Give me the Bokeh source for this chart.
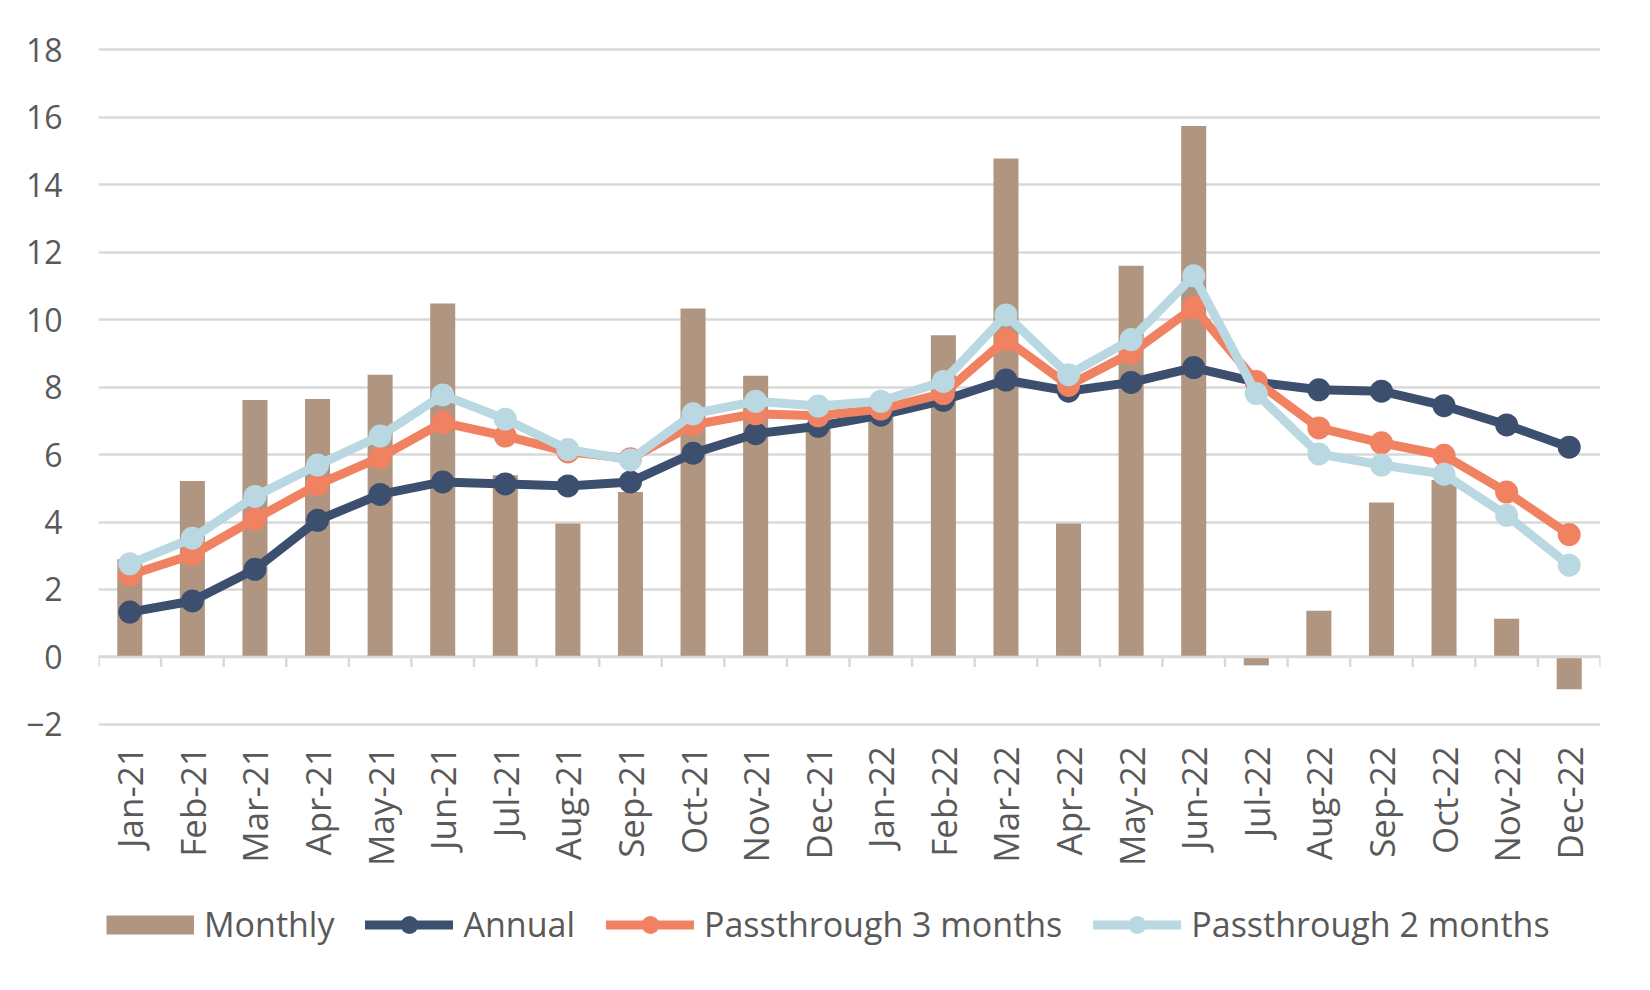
import math
from bokeh.plotting import figure
from bokeh.models import Range1d, FixedTicker, Legend, LegendItem, ColumnDataSource, Span
from bokeh.core.properties import value
from bokeh.embed import file_html
from bokeh.resources import INLINE

months = ["Jan-21", "Feb-21", "Mar-21", "Apr-21", "May-21", "Jun-21",
          "Jul-21", "Aug-21", "Sep-21", "Oct-21", "Nov-21", "Dec-21",
          "Jan-22", "Feb-22", "Mar-22", "Apr-22", "May-22", "Jun-22",
          "Jul-22", "Aug-22", "Sep-22", "Oct-22", "Nov-22", "Dec-22"]

monthly = [2.9, 5.22, 7.62, 7.65, 8.37, 10.48, 5.39, 3.96, 4.89, 10.33, 8.34, 6.9,
           7.2, 9.54, 14.78, 3.96, 11.6, 15.74, -0.25, 1.37, 4.58, 5.25, 1.13, -0.96]

annual = [1.33, 1.66, 2.6, 4.05, 4.82, 5.19, 5.13, 5.07, 5.19, 6.04, 6.62, 6.84,
          7.17, 7.61, 8.21, 7.88, 8.14, 8.58, 8.15, 7.92, 7.88, 7.45, 6.88, 6.22]

pass3 = [2.43, 3.03, 4.09, 5.11, 5.92, 6.95, 6.55, 6.08, 5.88, 6.88, 7.21, 7.15,
         7.35, 7.81, 9.41, 8.05, 9.01, 10.36, 8.17, 6.79, 6.35, 5.98, 4.89, 3.63]

pass2 = [2.76, 3.52, 4.76, 5.69, 6.55, 7.77, 7.05, 6.15, 5.84, 7.21, 7.58, 7.44,
         7.58, 8.17, 10.14, 8.37, 9.41, 11.3, 7.81, 6.02, 5.69, 5.42, 4.2, 2.72]

y_ticks = list(range(-2, 19, 2))

BAR = "#B09580"
NAVY = "#3C4F6E"
ORANGE = "#F08262"
LIGHT = "#BAD8E1"
GRID = "#D9D9D9"
TEXT = "#595959"
FONT = "Open Sans"

# the plot area runs to the bottom of the page; month labels and legend
# live in the strip below the -2 gridline
LABEL_Y = -2.65
TICK_LEN = 0.3

n = len(months)
idx = list(range(n))
src = ColumnDataSource(dict(x=idx, monthly=monthly, annual=annual, pass3=pass3, pass2=pass2))

p = figure(frame_width=1502, frame_height=944, output_backend="svg", toolbar_location=None,
           x_range=Range1d(-0.5, n - 0.5), y_range=Range1d(-9.89, 18.1),
           min_border_left=98, min_border_right=50, min_border_top=46, min_border_bottom=0)
p.outline_line_color = None
p.background_fill_color = "white"
p.xaxis.visible = False

# horizontal grid
p.xgrid.visible = False
p.ygrid.ticker = FixedTicker(ticks=y_ticks)
p.ygrid.grid_line_color = GRID
p.ygrid.grid_line_width = 2.5

# y axis: labels only
p.yaxis.ticker = FixedTicker(ticks=y_ticks)
p.yaxis.axis_line_color = None
p.yaxis.major_tick_line_color = None
p.yaxis.minor_tick_line_color = None
p.yaxis.major_label_text_font = FONT
p.yaxis.major_label_text_font_size = "32px"
p.yaxis.major_label_text_color = TEXT
p.yaxis.major_label_standoff = 30

# zero line with tick marks between categories
p.add_layout(Span(location=0, dimension="width", line_color=GRID, line_width=2.5))
bounds = [i - 0.5 for i in range(n + 1)]
p.segment(x0=bounds, x1=bounds, y0=[0] * len(bounds), y1=[-TICK_LEN] * len(bounds),
          line_color=GRID, line_width=2.5)

bars = p.vbar(x="x", top="monthly", bottom=0, width=0.4, source=src,
              fill_color=BAR, line_color=None)

def series(col, color):
    ln = p.line("x", col, source=src, line_color=color, line_width=9,
                line_join="round", line_cap="round")
    pt = p.scatter("x", col, source=src, size=23, fill_color=color, line_color=None)
    return [ln, pt]

r_annual = series("annual", NAVY)
r_pass3 = series("pass3", ORANGE)
r_pass2 = series("pass2", LIGHT)

# month labels, reading upward, ending just under the -2 gridline
p.text(x=idx, y=[LABEL_Y] * n, text=months, angle=math.pi / 2,
       text_align="right", text_baseline="middle",
       text_font=value(FONT), text_font_size="35px", text_color=TEXT)

# legend swatch for the bars: a flat band in the bar colour (draws nothing in the plot)
swatch = p.line(x=[0], y=[float("nan")], line_color=BAR, line_width=19)

legend = Legend(items=[
    LegendItem(label="Monthly", renderers=[swatch]),
    LegendItem(label="Annual", renderers=r_annual),
    LegendItem(label="Passthrough 3 months", renderers=r_pass3),
    LegendItem(label="Passthrough 2 months", renderers=r_pass2),
], orientation="horizontal", location=(8, 43))
legend.label_text_font = FONT
legend.label_text_font_size = "34px"
legend.label_text_color = TEXT
legend.glyph_width = 88
legend.glyph_height = 45
legend.label_standoff = 10
legend.spacing = 31
legend.padding = 0
legend.margin = 0
legend.border_line_color = None
legend.background_fill_alpha = 0
p.add_layout(legend)

open("out.html", "w").write(file_html(p, INLINE))
